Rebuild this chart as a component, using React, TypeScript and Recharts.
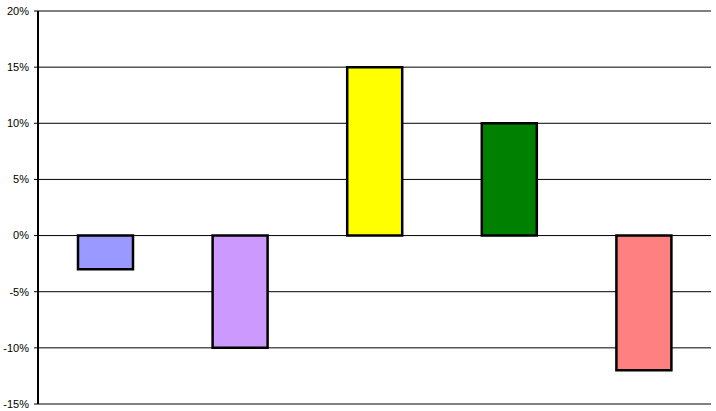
import { BarChart, Bar, XAxis, YAxis, CartesianGrid, Cell, ReferenceLine } from 'recharts';

document.body.style.margin = '0';

// categories (no visible labels in the original)
const categories = ['A', 'B', 'C', 'D', 'E'];
const values = [-3, -10, 15, 10, -12];
const colors = ['#9999FF', '#CC99FF', '#FFFF00', '#008000', '#FF8080'];
const yTicks = [-15, -10, -5, 0, 5, 10, 15, 20];

const data = categories.map((name, i) => ({ name, value: values[i] }));

export default function App() {
  return (
    <div style={{ width: 716, height: 411, background: '#fff' }}>
      <BarChart
        width={716}
        height={411}
        data={data}
        margin={{ top: 11, right: 5, bottom: 7, left: 0 }}
      >
        <CartesianGrid vertical={false} stroke="#000" strokeOpacity={1} />
        <XAxis dataKey="name" hide />
        <YAxis
          domain={[-15, 20]}
          ticks={yTicks}
          width={38}
          interval={0}
          stroke="#000"
          axisLine={{ stroke: '#000', strokeWidth: 2 }}
          tickLine={{ stroke: '#000' }}
          tickSize={4}
          tickMargin={5}
          tickFormatter={(v) => `${v}%`}
          tick={{ fill: '#000', fontSize: 11, fontFamily: 'Liberation Sans, Arial, sans-serif' }}
        />
        <YAxis
          yAxisId="right"
          orientation="right"
          domain={[-15, 20]}
          width={0}
          tick={false}
          tickLine={false}
          axisLine={{ stroke: '#808080', strokeWidth: 2 }}
        />
        <ReferenceLine y={20} stroke="#808080" strokeWidth={2} />
        <ReferenceLine y={-15} stroke="#808080" strokeWidth={2} />
        <Bar dataKey="value" barSize={55} stroke="#000" strokeWidth={2.5} isAnimationActive={false}>
          {data.map((d, i) => (
            <Cell key={d.name} fill={colors[i]} />
          ))}
        </Bar>
      </BarChart>
    </div>
  );
}
